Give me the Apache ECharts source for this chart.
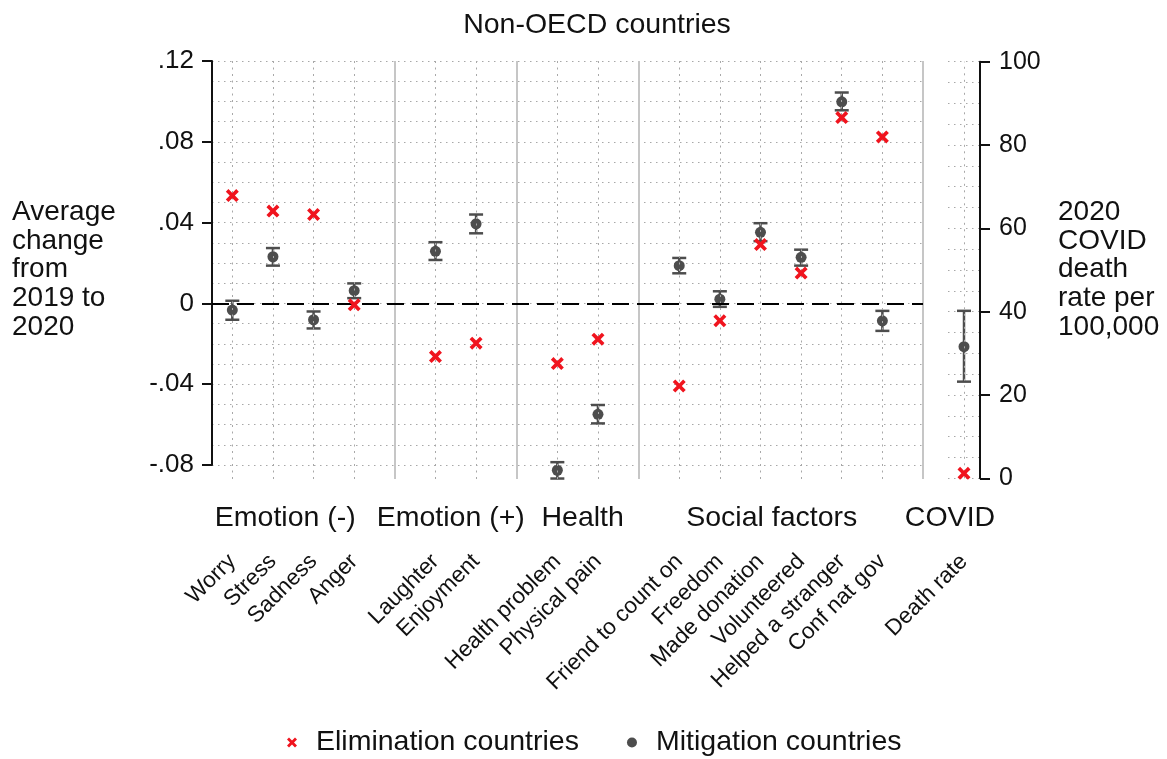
<!DOCTYPE html>
<html>
<head>
<meta charset="utf-8">
<script src="https://cdn.jsdelivr.net/npm/echarts@6/dist/echarts.min.js"></script>
<style>
  html, body { margin: 0; padding: 0; background: #fff; }
  #chart { width: 1167px; height: 759px; }
</style>
</head>
<body>
<div id="chart"></div>
<script>
// Wellbeing outcomes: groups of indicators and their sizes
const groupNames = ['Emotion (-)', 'Emotion (+)', 'Health', 'Social factors'];
const groupSizes = [4, 2, 2, 6];
const categories = [
  'Worry', 'Stress', 'Sadness', 'Anger',
  'Laughter', 'Enjoyment',
  'Health problem', 'Physical pain',
  'Friend to count on', 'Freedom', 'Made donation', 'Volunteered', 'Helped a stranger', 'Conf nat gov'
];

// Average change from 2019 to 2020
const eliminationValues = [0.0534, 0.0457, 0.0440, -0.0007, -0.0263, -0.0197, -0.0298, -0.0177, -0.0409, -0.0086, 0.0291, 0.0150, 0.0920, 0.0824];
const mitigationValues  = [-0.0033, 0.0231, -0.0081, 0.0063, 0.0258, 0.0394, -0.0826, -0.0549, 0.0187, 0.0021, 0.0352, 0.0228, 0.0998, -0.0086];
const mitigationLow     = [-0.0081, 0.0187, -0.0124, 0.0026, 0.0215, 0.0347, -0.0867, -0.0594, 0.0149, -0.0017, 0.0308, 0.0187, 0.0956, -0.0136];
const mitigationHigh    = [0.0013, 0.0274, -0.0040, 0.0099, 0.0303, 0.0440, -0.0786, -0.0503, 0.0225, 0.0060, 0.0397, 0.0266, 0.1044, -0.0037];

// 2020 COVID death rate per 100,000
const covidGroupName = 'COVID';
const covidCategory = 'Death rate';
const deathRateElimination = [1.2];
const deathRateMitigation = [31.6];
const deathRateLow = [23.2];
const deathRateHigh = [40.2];

// Tick labels
const changeTicks = [-0.08, -0.04, 0, 0.04, 0.08, 0.12];
const changeTickLabels = ['-.08', '-.04', '0', '.04', '.08', '.12'];
const deathTicks = [0, 20, 40, 60, 80, 100];

const FONT = "'Liberation Sans', Arial, Helvetica, sans-serif";
const INK = '#111';
const RED = '#f0141e';
const GREY = '#4d4d4d';

// Slot layout: items of a group side by side, one empty slot (a separator) after each group
const slots = [];
const separators = [];
const groupCenters = [];
let pos = 0;
groupSizes.forEach(n => {
  const start = pos;
  for (let i = 0; i < n; i++) slots.push(pos++);
  groupCenters.push(start + (n - 1) / 2);
  separators.push(pos++);
});
const xMin = -0.5;
const xMax = separators[separators.length - 1];
const slotName = {};
slots.forEach((s, i) => { slotName[s] = categories[i]; });

// heading nudges in pixels (layout only)
const headingNudge = [-8, -5, 5, -9];
const covidHeadingNudge = -14;

const crossPath = 'path://M0,2 L2,0 L5,3 L8,0 L10,2 L7,5 L10,8 L8,10 L5,7 L2,10 L0,8 L3,5 Z';

function errorBar(params, api) {
  const x = api.value(0);
  const top = api.coord([x, api.value(2)]);
  const bot = api.coord([x, api.value(1)]);
  const w = 7;
  const style = { stroke: GREY, lineWidth: 2.5 };
  return {
    type: 'group',
    children: [
      { type: 'line', shape: { x1: top[0], y1: top[1], x2: bot[0], y2: bot[1] }, style },
      { type: 'line', shape: { x1: top[0] - w, y1: top[1], x2: top[0] + w, y2: top[1] }, style },
      { type: 'line', shape: { x1: bot[0] - w, y1: bot[1], x2: bot[0] + w, y2: bot[1] }, style }
    ]
  };
}

const dotted = { color: '#a8a8a8', width: 1, type: [1.5, 4.5] };
const plotLeft = 212, plotWidth = 711, plotTop = 61;

const chart = echarts.init(document.getElementById('chart'), null, { renderer: 'canvas' });

const option = {
  animation: false,
  backgroundColor: '#fff',
  textStyle: { fontFamily: FONT, color: INK },
  title: {
    text: 'Non-OECD countries',
    left: 592,
    textAlign: 'center',
    top: 6,
    textStyle: { fontFamily: FONT, fontSize: 28.5, fontWeight: 'normal', color: INK }
  },
  legend: {
    left: 287,
    top: 728,
    itemWidth: 10,
    itemHeight: 10,
    itemGap: 48,
    padding: 0,
    selectedMode: false,
    textStyle: { fontFamily: FONT, fontSize: 28.5, color: INK, padding: [0, 0, 0, 14] },
    data: [
      { name: 'Elimination countries', icon: crossPath },
      { name: 'Mitigation countries', icon: 'circle' }
    ]
  },
  grid: [
    // background panel: vertical guides and category labels
    { left: plotLeft, top: plotTop, width: plotWidth, height: 418 },
    // value panel: average change
    { left: plotLeft, top: plotTop, width: plotWidth, height: 404 },
    // COVID panel
    { left: 948, top: 61.7, width: 32, height: 416.6 }
  ],
  xAxis: [
    {
      gridIndex: 0, type: 'value', min: xMin, max: xMax, interval: 0.5,
      axisLine: { show: false }, axisTick: { show: false }, splitLine: { show: false },
      axisLabel: {
        rotate: 45, margin: 79, fontSize: 22.5, fontFamily: FONT, color: INK,
        formatter: v => slotName[Math.round(v * 2) / 2] || ''
      }
    },
    {
      gridIndex: 1, type: 'value', min: xMin, max: xMax, show: false
    },
    {
      gridIndex: 2, type: 'value', min: -0.5, max: 0.5, interval: 0.5,
      axisLine: { show: false }, axisTick: { show: false }, splitLine: { show: false },
      axisLabel: {
        rotate: 45, margin: 80, fontSize: 22.5, fontFamily: FONT, color: INK,
        formatter: v => (Math.abs(v) < 1e-9 ? covidCategory : '')
      }
    }
  ],
  yAxis: [
    { gridIndex: 0, type: 'value', min: 0, max: 1, show: false },
    {
      gridIndex: 1, type: 'value', min: changeTicks[0], max: changeTicks[changeTicks.length - 1], interval: 0.04,
      axisLine: { show: true, onZero: false, lineStyle: { color: INK, width: 2 } },
      axisTick: { show: true, inside: false, length: 10, lineStyle: { color: INK, width: 2 } },
      splitLine: { show: false },
      axisLabel: {
        margin: 18, fontSize: 26, fontFamily: FONT, color: INK,
        formatter: v => {
          const i = changeTicks.findIndex(t => Math.abs(t - v) < 1e-6);
          return i >= 0 ? changeTickLabels[i] : '';
        }
      }
    },
    {
      gridIndex: 1, type: 'value', min: changeTicks[0], max: changeTicks[changeTicks.length - 1], interval: 0.01,
      axisLine: { show: false }, axisTick: { show: false }, axisLabel: { show: false },
      splitLine: { show: true, lineStyle: dotted }
    },
    {
      gridIndex: 2, type: 'value', position: 'right', min: deathTicks[0], max: deathTicks[deathTicks.length - 1], interval: 20,
      axisLine: { show: true, onZero: false, lineStyle: { color: INK, width: 2 } },
      axisTick: { show: true, inside: false, length: 10, lineStyle: { color: INK, width: 2 } },
      splitLine: { show: false },
      axisLabel: { margin: 19, fontSize: 25, fontFamily: FONT, color: INK }
    },
    {
      gridIndex: 2, type: 'value', min: deathTicks[0], max: deathTicks[deathTicks.length - 1], interval: 5,
      axisLine: { show: false }, axisTick: { show: false }, axisLabel: { show: false },
      splitLine: { show: true, lineStyle: dotted }
    }
  ],
  series: [
    // vertical dotted guides at each indicator
    {
      type: 'line', xAxisIndex: 0, yAxisIndex: 0, data: [], silent: true,
      markLine: {
        silent: true, symbol: ['none', 'none'], label: { show: false },
        lineStyle: { color: '#a8a8a8', width: 1, type: [2, 4.5] },
        data: slots.map(x => ({ xAxis: x }))
      }
    },
    // solid separators between groups
    {
      type: 'line', xAxisIndex: 0, yAxisIndex: 0, data: [], silent: true,
      markLine: {
        silent: true, symbol: ['none', 'none'], label: { show: false },
        lineStyle: { color: '#c6c6c6', width: 2, type: 'solid' },
        data: separators.map(x => ({ xAxis: x }))
      }
    },
    // confidence intervals, mitigation countries
    {
      type: 'custom', xAxisIndex: 1, yAxisIndex: 1, clip: false, silent: true,
      renderItem: errorBar,
      data: slots.map((x, i) => [x, mitigationLow[i], mitigationHigh[i]]),
      z: 3
    },
    {
      name: 'Mitigation countries', type: 'scatter', xAxisIndex: 1, yAxisIndex: 1, clip: false,
      symbol: 'circle', symbolSize: 11, itemStyle: { color: GREY, opacity: 1 },
      data: slots.map((x, i) => [x, mitigationValues[i]]),
      z: 4,
      markLine: {
        silent: true, symbol: ['none', 'none'], label: { show: false },
        lineStyle: { color: '#000', width: 2, type: [17, 8] },
        data: [{ yAxis: 0 }]
      }
    },
    {
      name: 'Elimination countries', type: 'scatter', xAxisIndex: 1, yAxisIndex: 1, clip: false,
      symbol: crossPath, symbolSize: 13, itemStyle: { color: RED, opacity: 1 },
      data: slots.map((x, i) => [x, eliminationValues[i]]),
      z: 5
    },
    // COVID panel
    {
      type: 'custom', xAxisIndex: 2, yAxisIndex: 3, clip: false, silent: true,
      renderItem: errorBar,
      data: [[0, deathRateLow[0], deathRateHigh[0]]],
      z: 3
    },
    {
      name: 'Mitigation countries', type: 'scatter', xAxisIndex: 2, yAxisIndex: 3, clip: false,
      symbol: 'circle', symbolSize: 11, itemStyle: { color: GREY, opacity: 1 },
      data: deathRateMitigation.map(v => [0, v]),
      z: 4,
      markLine: {
        silent: true, symbol: ['none', 'none'], label: { show: false },
        lineStyle: { color: '#a8a8a8', width: 1, type: [2, 4.5] },
        data: [{ xAxis: 0 }]
      }
    },
    {
      name: 'Elimination countries', type: 'scatter', xAxisIndex: 2, yAxisIndex: 3, clip: false,
      symbol: crossPath, symbolSize: 13, itemStyle: { color: RED, opacity: 1 },
      data: deathRateElimination.map(v => [0, v]),
      z: 5
    }
  ]
};

chart.setOption(option);

// Group headings and axis titles
const headingY = 518;
const headingStyle = { fontSize: 28.5, fontFamily: FONT, fill: INK, textAlign: 'center', textVerticalAlign: 'middle' };
const headings = groupNames.map((name, i) => ({
  type: 'text',
  x: chart.convertToPixel({ xAxisIndex: 1 }, groupCenters[i]) + headingNudge[i],
  y: headingY,
  style: Object.assign({ text: name }, headingStyle)
}));
headings.push({
  type: 'text',
  x: chart.convertToPixel({ xAxisIndex: 2 }, 0) + covidHeadingNudge,
  y: headingY,
  style: Object.assign({ text: covidGroupName }, headingStyle)
});
headings.push({
  type: 'text', left: 12, top: 198,
  style: { text: 'Average\nchange\nfrom\n2019 to\n2020', fontSize: 28, lineHeight: 28.7, fontFamily: FONT, fill: INK }
});
headings.push({
  type: 'text', left: 1058, top: 198,
  style: { text: '2020\nCOVID\ndeath\nrate per\n100,000', fontSize: 28, lineHeight: 28.7, fontFamily: FONT, fill: INK }
});
chart.setOption({ graphic: headings });
</script>
</body>
</html>
